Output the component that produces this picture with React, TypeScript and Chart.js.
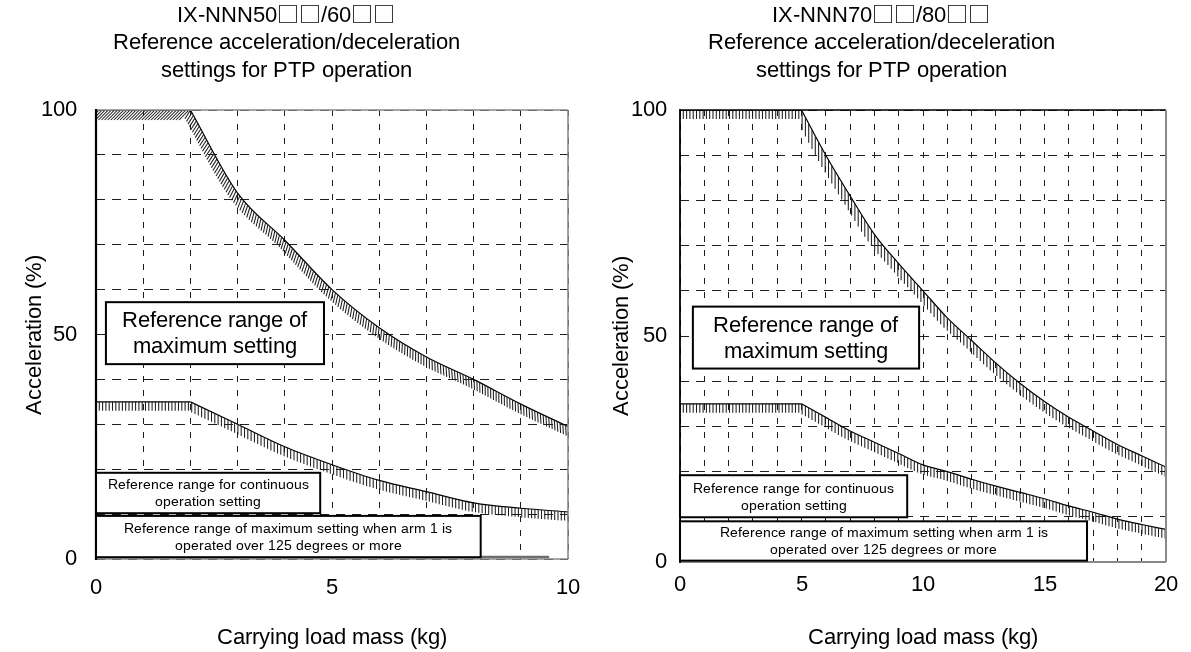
import React, { useEffect, useRef } from 'react';
import { Chart, registerables } from 'chart.js';

Chart.register(...registerables);

const FONT = 'RefSans, "Liberation Sans", Arial, Helvetica, sans-serif';

// ---------- Left panel: IX-NNN50□□/60□□ ----------
const leftTitle = ['IX-NNN50□□/60□□', 'Reference acceleration/deceleration', 'settings for PTP operation'];
const leftMassFlat = [0, 1, 2];
const leftMaxFlat = [100, 100, 100];
const leftMassCurve = [2, 3, 4, 5, 6, 7, 8, 9, 10];
const leftMaxCurve = [100, 81.5, 71, 60, 51.5, 45, 40, 34.5, 29.5];
const leftContFlat = [35, 35, 35];
const leftContCurve = [35, 30, 25, 21, 17.5, 15, 12.5, 11.3, 10.5];
const leftArmMass = [0, 9.6];
const leftArmLimit = [0.45, 0.45];
const leftXLabels = [0, 5, 10];

// ---------- Right panel: IX-NNN70□□/80□□ ----------
const rightTitle = ['IX-NNN70□□/80□□', 'Reference acceleration/deceleration', 'settings for PTP operation'];
const rightMassFlat = [0, 1, 2, 3, 4, 5];
const rightMaxFlat = [100, 100, 100, 100, 100, 100];
const rightMassCurve = [5, 6, 7, 8, 9, 10, 11, 12, 13, 14, 15, 16, 17, 18, 19, 20];
const rightMaxCurve = [100, 90, 81, 72.5, 66, 60, 54, 49, 44, 39.5, 35.5, 32, 29, 26, 23.5, 21];
const rightContFlat = [35, 35, 35, 35, 35, 35];
const rightContCurve = [35, 32, 29, 26.5, 24, 21.5, 20, 18.3, 16.8, 15.4, 14, 12.4, 11, 9.5, 8.3, 7.2];
const rightXLabels = [0, 5, 10, 15, 20];

// ---------- shared ----------
const yLabels = [0, 50, 100];
const yTitle = 'Acceleration (%)';
const xTitle = 'Carrying load mass (kg)';
const maxBoxText = ['Reference range of', 'maximum setting'];
const contBoxText = ['Reference range for continuous', 'operation setting'];
const armBoxText = ['Reference range of maximum setting when arm 1 is', 'operated over 125 degrees or more'];

function ensureFontFace() {
  if (typeof document === 'undefined') return;
  if (document.getElementById('refsans-style')) return;
  const st = document.createElement('style');
  st.id = 'refsans-style';
  st.textContent =
    "@font-face { font-family: 'RefSans'; src: local('Liberation Sans'), local('LiberationSans'); }\n" +
    "@font-face { font-family: 'RefSans'; src: local('Noto Sans CJK JP'), local('NotoSansCJKjp-Regular'), local('Noto Sans CJK JP Regular'); unicode-range: U+25A1; }\n";
  document.head.appendChild(st);
}

type Hatch = { kind: 'vert' | 'diag'; d: number; k?: number };

function series(xs: number[], ys: number[]) {
  return xs.map((x, i) => ({ x, y: ys[i] }));
}

function line(xs: number[], ys: number[], hatch: Hatch | null, smooth: boolean, color = '#000', width = 1.2) {
  return {
    data: series(xs, ys),
    borderColor: color,
    borderWidth: width,
    pointRadius: 0,
    pointHoverRadius: 0,
    fill: false,
    tension: 0,
    cubicInterpolationMode: smooth ? 'monotone' : 'default',
    hatch,
  };
}

function samplePath(pts: any[], smooth: boolean) {
  const out: { x: number; y: number }[] = [];
  for (let i = 0; i < pts.length - 1; i++) {
    const a = pts[i];
    const b = pts[i + 1];
    const N = 60;
    for (let j = 0; j < N; j++) {
      const t = j / N;
      if (smooth && a.cp2x !== undefined && b.cp1x !== undefined) {
        const mt = 1 - t;
        const x = mt * mt * mt * a.x + 3 * mt * mt * t * a.cp2x + 3 * mt * t * t * b.cp1x + t * t * t * b.x;
        const y = mt * mt * mt * a.y + 3 * mt * mt * t * a.cp2y + 3 * mt * t * t * b.cp1y + t * t * t * b.y;
        out.push({ x, y });
      } else {
        out.push({ x: a.x + (b.x - a.x) * t, y: a.y + (b.y - a.y) * t });
      }
    }
  }
  const last = pts[pts.length - 1];
  out.push({ x: last.x, y: last.y });
  return out;
}

interface BoxSpec {
  x0: number; x1: number; y0: number; y1: number;
  lines: string[]; size: number; lh: number;
}

interface FrameSpec {
  left: [string, number]; top: [string, number]; right: [string, number]; bottom: [string, number];
}

interface PanelSpec {
  title: string[];
  xMax: number;
  xLabels: number[];
  datasets: any[];
  boxes: BoxSpec[];
  yAxisWidth: number;
  xAxisHeight: number;
  padRight: number;
  yTitlePad: number;
  yTickPad: number;
  xTickPad: number;
  frame: FrameSpec;
}

function overlayPlugin(spec: PanelSpec) {
  return {
    id: 'overlay',
    afterDatasetsDraw(chart: any) {
      const ctx: CanvasRenderingContext2D = chart.ctx;
      const a = chart.chartArea;
      const xs = chart.scales.x;
      const ys = chart.scales.y;

      // hatching
      ctx.save();
      ctx.beginPath();
      ctx.rect(a.left, a.top, a.right - a.left, a.bottom - a.top);
      ctx.clip();
      chart.data.datasets.forEach((ds: any, i: number) => {
        const h: Hatch | null = ds.hatch;
        if (!h) return;
        const meta = chart.getDatasetMeta(i);
        const pts = samplePath(meta.data, ds.cubicInterpolationMode === 'monotone');
        ctx.strokeStyle = '#1c1c1c';
        ctx.lineWidth = 1.05;
        ctx.beginPath();
        if (h.kind === 'vert') {
          const step = 3.3;
          const k0 = Math.ceil((pts[0].x - a.left) / step);
          let idx = 0;
          for (let x = a.left + k0 * step; x <= pts[pts.length - 1].x; x += step) {
            while (idx < pts.length - 2 && pts[idx + 1].x < x) idx++;
            const p = pts[idx];
            const q = pts[idx + 1];
            const dx = q.x - p.x;
            const t = dx === 0 ? 0 : (x - p.x) / dx;
            const y = p.y + t * (q.y - p.y);
            const s = dx === 0 ? 0 : (q.y - p.y) / dx;
            const len = Math.min(h.d * Math.sqrt(1 + s * s), 30);
            ctx.moveTo(x, y);
            ctx.lineTo(x, y + len);
          }
        } else {
          const step = 3.1;
          let acc = 0;
          const k = h.k || 0;
          for (let j = 0; j < pts.length - 1; j++) {
            const p = pts[j];
            const q = pts[j + 1];
            const dx = q.x - p.x;
            const dy = q.y - p.y;
            const L = Math.hypot(dx, dy);
            if (!L) continue;
            const tx = dx / L;
            const ty = dy / L;
            const nx = -ty;
            const ny = tx;
            while (acc <= L) {
              const px = p.x + tx * acc;
              const py = p.y + ty * acc;
              ctx.moveTo(px, py);
              ctx.lineTo(px + h.d * (nx + k * tx), py + h.d * (ny + k * ty));
              acc += step;
            }
            acc -= L;
          }
        }
        ctx.stroke();
      });
      ctx.restore();

      // frame
      const f = spec.frame;
      const seg = (x1: number, y1: number, x2: number, y2: number, st: [string, number]) => {
        ctx.save();
        ctx.strokeStyle = st[0];
        ctx.lineWidth = st[1];
        ctx.beginPath();
        ctx.moveTo(x1, y1);
        ctx.lineTo(x2, y2);
        ctx.stroke();
        ctx.restore();
      };
      seg(a.left, a.top, a.right, a.top, f.top);
      seg(a.left, a.bottom, a.right, a.bottom, f.bottom);
      seg(a.right, a.top, a.right, a.bottom, f.right);
      seg(a.left, a.top - 1, a.left, a.bottom + 1, f.left);

      // annotation boxes
      spec.boxes.forEach((b) => {
        const x0 = xs.getPixelForValue(b.x0);
        const x1 = xs.getPixelForValue(b.x1);
        const y0 = ys.getPixelForValue(b.y0);
        const y1 = ys.getPixelForValue(b.y1);
        ctx.save();
        ctx.fillStyle = '#fff';
        ctx.fillRect(x0, y0, x1 - x0, y1 - y0);
        ctx.strokeStyle = '#000';
        ctx.lineWidth = 2;
        ctx.strokeRect(x0, y0, x1 - x0, y1 - y0);
        ctx.fillStyle = '#000';
        ctx.font = `${b.size}px ${FONT}`;
        ctx.textAlign = 'center';
        ctx.textBaseline = 'middle';
        const cx = (x0 + x1) / 2;
        const cy = (y0 + y1) / 2;
        const n = b.lines.length;
        b.lines.forEach((t, j) => ctx.fillText(t, cx, cy + (j - (n - 1) / 2) * b.lh + 1));
        ctx.restore();
      });
    },
  };
}

function makeConfig(spec: PanelSpec): any {
  return {
    type: 'line',
    data: { datasets: spec.datasets },
    options: {
      animation: false,
      responsive: true,
      maintainAspectRatio: false,
      events: [],
      layout: { padding: { left: 0, right: spec.padRight, top: 0, bottom: 0 } },
      plugins: {
        legend: { display: false },
        tooltip: { enabled: false },
        title: {
          display: true,
          text: spec.title,
          color: '#000',
          font: { family: FONT, size: 22, weight: 'normal', lineHeight: 1.25 },
          padding: { top: 2, bottom: 25.5 },
        },
      },
      scales: {
        x: {
          type: 'linear',
          min: 0,
          max: spec.xMax,
          afterFit: (s: any) => { s.height = spec.xAxisHeight; },
          ticks: {
            stepSize: 1,
            autoSkip: false,
            maxRotation: 0,
            padding: spec.xTickPad,
            color: '#000',
            font: { family: FONT, size: 22 },
            callback: (v: any) => (spec.xLabels.includes(Number(v)) ? String(v) : ''),
          },
          grid: { color: '#1e1e1e', lineWidth: 1, drawTicks: false, borderDash: [6, 8] },
          border: { display: false, dash: [6, 8] },
          title: {
            display: true,
            text: xTitle,
            color: '#000',
            font: { family: FONT, size: 22 },
            padding: { top: 0, bottom: 1 },
          },
        },
        y: {
          type: 'linear',
          min: 0,
          max: 100,
          afterFit: (s: any) => { s.width = spec.yAxisWidth; },
          ticks: {
            stepSize: 10,
            autoSkip: false,
            padding: spec.yTickPad,
            color: '#000',
            font: { family: FONT, size: 22 },
            callback: (v: any) => (yLabels.includes(Number(v)) ? String(v) : ''),
          },
          grid: { color: '#1e1e1e', lineWidth: 1, drawTicks: false, borderDash: [9, 7] },
          border: { display: false, dash: [9, 7] },
          title: {
            display: true,
            text: yTitle,
            color: '#000',
            font: { family: FONT, size: 22 },
            padding: { top: spec.yTitlePad, bottom: 0 },
          },
        },
      },
    },
    plugins: [overlayPlugin(spec)],
  };
}

const leftSpec: PanelSpec = {
  title: leftTitle,
  xMax: 10,
  xLabels: leftXLabels,
  datasets: [
    line(leftArmMass, leftArmLimit, null, false, '#6e6e6e', 2.5),
    line(leftMassFlat, leftMaxFlat, { kind: 'diag', d: 10, k: -1 }, false),
    line(leftMassCurve, leftMaxCurve, { kind: 'diag', d: 9, k: 0.55 }, true),
    line(leftMassFlat, leftContFlat, { kind: 'vert', d: 9 }, false),
    line(leftMassCurve, leftContCurve, { kind: 'vert', d: 9 }, true),
  ],
  boxes: [
    { x0: 0.21, x1: 4.83, y0: 57.2, y1: 43.4, lines: maxBoxText, size: 22, lh: 26 },
    { x0: 0, x1: 4.75, y0: 19.2, y1: 10.2, lines: contBoxText, size: 14, lh: 17 },
    { x0: 0, x1: 8.15, y0: 9.6, y1: 0.4, lines: armBoxText, size: 14, lh: 17 },
  ],
  yAxisWidth: 96,
  xAxisHeight: 93,
  padRight: 24,
  yTitlePad: 22,
  yTickPad: 19,
  xTickPad: 16,
  frame: { left: ['#000', 2.2], top: ['#8a8a8a', 1.6], right: ['#8a8a8a', 1.6], bottom: ['#8a8a8a', 1.6] },
};

const rightSpec: PanelSpec = {
  title: rightTitle,
  xMax: 20,
  xLabels: rightXLabels,
  datasets: [
    line(rightMassFlat, rightMaxFlat, { kind: 'vert', d: 9 }, false),
    line(rightMassCurve, rightMaxCurve, { kind: 'vert', d: 9 }, true),
    line(rightMassFlat, rightContFlat, { kind: 'vert', d: 9 }, false),
    line(rightMassCurve, rightContCurve, { kind: 'vert', d: 9 }, true),
  ],
  boxes: [
    { x0: 0.53, x1: 9.84, y0: 56.5, y1: 42.8, lines: maxBoxText, size: 22, lh: 26 },
    { x0: 0, x1: 9.35, y0: 19.2, y1: 9.9, lines: contBoxText, size: 14, lh: 17 },
    { x0: 0, x1: 16.75, y0: 9.0, y1: 0.3, lines: armBoxText, size: 14, lh: 17 },
  ],
  yAxisWidth: 84,
  xAxisHeight: 90,
  padRight: 25,
  yTitlePad: 13,
  yTickPad: 13,
  xTickPad: 10,
  frame: { left: ['#000', 1.8], top: ['#000', 1.6], right: ['#8a8a8a', 2], bottom: ['#8a8a8a', 2] },
};

function Panel({ spec, left, width }: { spec: PanelSpec; left: number; width: number }) {
  const ref = useRef<HTMLCanvasElement | null>(null);
  useEffect(() => {
    let chart: Chart | null = null;
    let cancelled = false;
    ensureFontFace();
    const build = () => {
      if (cancelled || !ref.current || chart) return;
      chart = new Chart(ref.current, makeConfig(spec));
    };
    let p: Promise<any>;
    try {
      p = (document as any).fonts
        ? Promise.all([
            (document as any).fonts.load('22px RefSans', 'IX□ Ref'),
            (document as any).fonts.load('14px RefSans', 'Ref'),
          ])
        : Promise.resolve();
    } catch (e) {
      p = Promise.resolve();
    }
    p.then(build, build);
    return () => {
      cancelled = true;
      if (chart) chart.destroy();
    };
  }, [spec]);
  return (
    <div style={{ position: 'absolute', left, top: 0, width, height: 652 }}>
      <canvas ref={ref} />
    </div>
  );
}

export default function App() {
  return (
    <div
      style={{
        position: 'absolute',
        left: 0,
        top: 0,
        width: 1191,
        height: 652,
        overflow: 'hidden',
        background: '#fff',
      }}
    >
      <Panel spec={leftSpec} left={0} width={596} />
      <Panel spec={rightSpec} left={596} width={595} />
    </div>
  );
}
